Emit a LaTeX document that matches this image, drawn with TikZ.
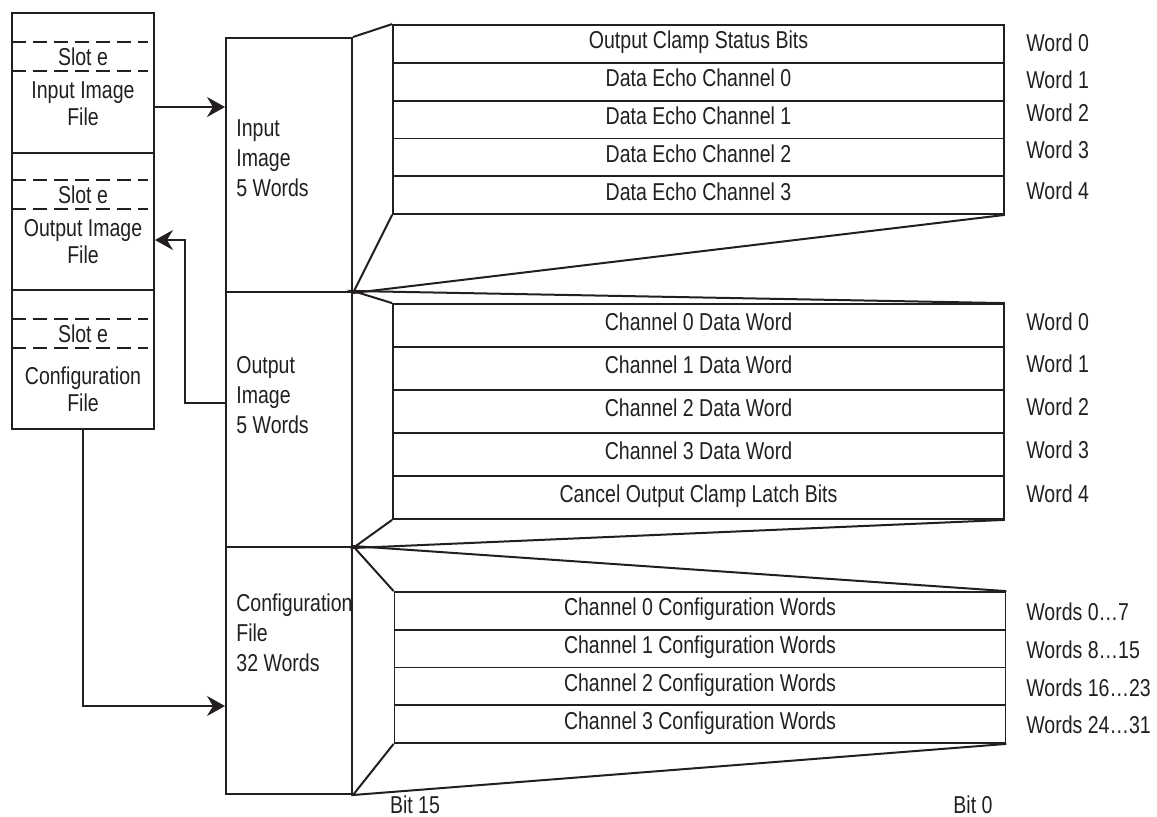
\documentclass[tikz,border=0pt]{standalone}
\usepackage{fontspec}
\setmainfont{Liberation Sans}[FakeStretch=0.8]
\usetikzlibrary{positioning}
\usetikzlibrary{arrows.meta}
\usetikzlibrary{calc}
\definecolor{ink}{HTML}{231F20}
\tikzstyle{filebox}=[rectangle,draw=ink,line width=1pt,minimum width=71pt,inner sep=0pt]
\tikzstyle{midbox}=[rectangle,draw=ink,line width=1pt,minimum width=63pt,inner sep=0pt]
\tikzstyle{wordrow}=[rectangle,draw=ink,line width=0.9pt,minimum width=305.5pt,inner sep=0pt,text=ink,text height=9pt,text depth=4pt,font=\fontsize{12.2pt}{15pt}\selectfont]
\tikzstyle{funnel}=[draw=ink,line width=1pt]
\tikzstyle{slot}=[draw=ink,line width=1pt,dash pattern=on 7pt off 3.5pt]
\tikzstyle{link}=[draw=ink,line width=0.8pt,-{Stealth[length=9pt,width=10pt,inset=3pt]}]
\tikzstyle{txt}=[text=ink,inner sep=0pt,font=\fontsize{12.2pt}{13.5pt}\selectfont]

\begin{document}
\begin{tikzpicture}[x=0.5pt,y=-0.5pt]
  \useasboundingbox (0,0) rectangle (1157,816);

  % controller data files
  \foreach \y/\h/\name in {83/70pt/secIn, 221.5/68.5pt/secOut, 359.5/69.5pt/secCfg}
     \node[filebox,minimum height=\h] (\name) at (83,\y) {};

  \foreach \y in {42,71,180,209,319,348}
     \draw[slot] (12,\y) -- (148,\y);

  \foreach \y/\name in {56.5/slotIn, 194.5/slotOut, 333.5/slotCfg}
     \node[txt] (\name) at (83,\y) {Slot e};

  \foreach \y/\name/\lbl in {103.5/fileIn/{Input Image\\File}, 242/fileOut/{Output Image\\File}, 389/fileCfg/{Configuration\\File}}
     \node[txt,align=center] (\name) at (83,\y) {\lbl};

  % module images
  \foreach \y/\h/\name in {165/127pt/midIn, 419.5/127.5pt/midOut, 670.5/123.5pt/midCfg}
     \node[midbox,minimum height=\h] (\name) at (289,\y) {};

  \foreach \y/\name/\lbl in {158/txtIn/{Input\\Image\\5 Words}, 395/txtOut/{Output\\Image\\5 Words}, 633/txtCfg/{Configuration\\File\\32 Words}}
     \node[txt,align=left,anchor=west,font=\fontsize{12.2pt}{15pt}\selectfont] (\name) at (236,\y) {\lbl};

  % expanded words
  \foreach \i/\lbl in {1/Output Clamp Status Bits, 2/Data Echo Channel 0, 3/Data Echo Channel 1, 4/Data Echo Channel 2, 5/Data Echo Channel 3}
     \node[wordrow,minimum height=18.9pt] (in\i) at (698.5,{25+37.8*(\i-0.5)}) {\lbl};

  \foreach \i/\lbl in {1/Channel 0 Data Word, 2/Channel 1 Data Word, 3/Channel 2 Data Word, 4/Channel 3 Data Word, 5/Cancel Output Clamp Latch Bits}
     \node[wordrow,minimum height=21.5pt] (out\i) at (698.5,{304+43*(\i-0.5)}) {\lbl};

  \foreach \i/\lbl in {1/Channel 0 Configuration Words, 2/Channel 1 Configuration Words, 3/Channel 2 Configuration Words, 4/Channel 3 Configuration Words}
     \node[wordrow,minimum height=18.875pt] (cfg\i) at (700,{592+37.75*(\i-0.5)}) {\lbl};

  \foreach \y/\name/\lbl in {43/wIn0/Word 0, 80/wIn1/Word 1, 113/wIn2/Word 2, 150/wIn3/Word 3, 191/wIn4/Word 4,
                             322/wOut0/Word 0, 364/wOut1/Word 1, 407/wOut2/Word 2, 450/wOut3/Word 3, 494/wOut4/Word 4,
                             612/wCfg0/Words 0…7, 650/wCfg1/Words 8…15, 688/wCfg2/Words 16…23, 725/wCfg3/Words 24…31}
     \node[txt,anchor=west] (\name) at (1026,\y) {\lbl};

  \node[txt] (bitHi) at (415,805) {Bit 15};
  \node[txt] (bitLo) at (973,805) {Bit 0};

  % funnels
  \draw[funnel] (midIn.north east) -- (in1.north west);
  \draw[funnel] (in5.south west) -- (midIn.south east) -- (in5.south east);
  \draw[funnel] (out1.north west) -- (midOut.north east) -- (out1.north east);
  \draw[funnel] (out5.south west) -- (midOut.south east) -- (out5.south east);
  \draw[funnel] (cfg1.north west) -- (midCfg.north east) -- (cfg1.north east);
  \draw[funnel] (cfg4.south west) -- (midCfg.south east) -- (cfg4.south east);

  % transfers
  \coordinate (yIn) at (0,107);
  \coordinate (yOut) at (0,403);
  \coordinate (bendOut) at (185,240);
  \coordinate (yCfg) at (0,706);
  \draw[link] (secIn.east |- yIn) -- (midIn.west |- yIn);
  \draw[link] (midOut.west |- yOut) -| (bendOut) -- (secOut.east |- bendOut);
  \draw[link] (secCfg.south) |- (midCfg.west |- yCfg);

\end{tikzpicture}
\end{document}
